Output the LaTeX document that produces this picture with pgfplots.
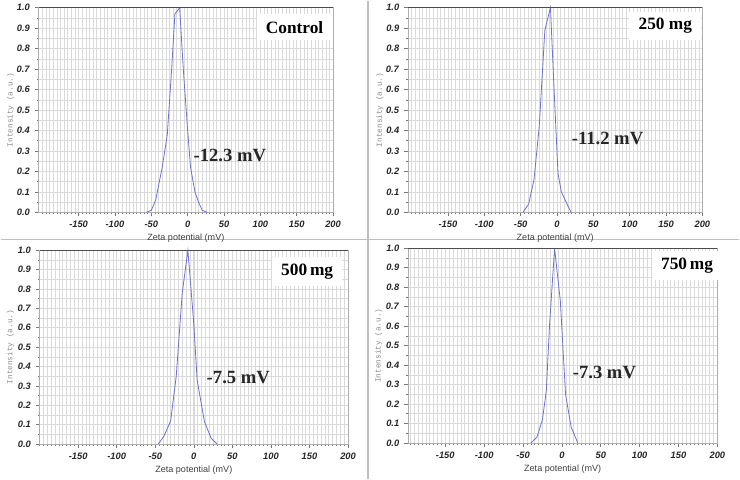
\documentclass[border=0pt]{standalone}
\usepackage{pgfplots}
\pgfplotsset{compat=1.18}
\usepackage{fontspec}
\setmainfont{Liberation Sans}
\newfontfamily\timesb{Liberation Serif}
\newfontfamily\monof{Liberation Mono}

\definecolor{curve}{RGB}{112,112,205}
\definecolor{gridc}{RGB}{218,218,218}
\definecolor{tickc}{RGB}{120,120,120}

\tikzset{
  boxlab/.style={fill=white, inner xsep=7pt, inner ysep=5pt, font=\timesb\bfseries\fontsize{13}{14}\selectfont},
  vlab/.style={font=\timesb\bfseries\fontsize{14}{15}\selectfont, text=black!85},
}

\pgfplotsset{
  zp/.style={
    scale only axis,
    anchor=south west,
    ymin=0, ymax=1,
    xmax=200,
    xtick={-150,-100,...,200},
    ytick={0,0.1,...,1.0},
    minor xtick={-200,-195,...,200},
    minor ytick={0.05,0.15,...,0.95},
    xticklabel={\textbf{\textit{\pgfmathprintnumber{\tick}}}},
    yticklabel={\textbf{\textit{\pgfmathprintnumber[fixed,fixed zerofill,precision=1]{\tick}}}},
    grid=both,
    major grid style={gridc, line width=0.5pt},
    minor grid style={gridc, line width=0.4pt},
    tick align=outside,
    major tick length=3pt,
    minor tick length=1.5pt,
    tick style={tickc, line width=0.4pt},
    xtick pos=bottom, ytick pos=left,
    axis line style={tickc!60, line width=0.4pt},
    ticklabel style={font=\fontsize{7}{8}\selectfont, text=black!85},
    /pgf/number format/assume math mode=true,
    xlabel={Zeta potential (mV)},
    ylabel={Intensity (a.u.)},
    xlabel style={font=\fontsize{6.8}{8}\selectfont, text=black!75, at={(axis description cs:0.5,0)}, anchor=north, yshift=-13pt},
    ylabel style={font=\monof\fontsize{5.8}{7}\selectfont, text=black!45, at={(axis description cs:-0.095,0.5)}, anchor=center},
    clip=false,
  },
  zc/.style={curve, line width=0.6pt, mark=none},
}

\begin{document}
\begin{tikzpicture}
\fill[white] (0,0) rectangle (555pt,359.25pt);
\draw[black!25, line width=1pt] (276pt,0) -- (276pt,359.25pt);
\draw[black!25, line width=1pt] (0,180pt) -- (555pt,180pt);

% Control
\begin{axis}[zp, at={(28.5pt,200.25pt)}, width=221.25pt, height=153.75pt, xmin=-205]
\addplot[zc] coordinates {
(-57,0) (-50,0.01) (-44,0.06) (-35,0.22) (-28,0.38) (-22,0.7) (-17.5,0.97)
(-11,1.0) (-6,0.7) (0,0.4) (4,0.22) (10,0.1) (15,0.05) (20,0.01) (27,0)
};
\draw[black!70, line width=1pt] (rel axis cs:0,1) -- (rel axis cs:1,1);
\node[boxlab] at (axis cs:147,0.905) {Control};
\node[vlab] at (axis cs:58,0.28) {-12.3 mV};
\end{axis}

% 250 mg
\begin{axis}[zp, at={(306pt,200.25pt)}, width=221.25pt, height=153.75pt, xmin=-205]
\addplot[zc] coordinates {
(-47,0) (-39,0.04) (-31.6,0.16) (-24.4,0.42) (-16.7,0.89) (-9,1.0)
(-4,0.6) (1.4,0.19) (6,0.1) (12.6,0.05) (19.4,0)
};
\draw[black!70, line width=1pt] (rel axis cs:0,1) -- (rel axis cs:1,1);
\node[boxlab] at (axis cs:149,0.91) {250 mg};
\node[vlab] at (axis cs:69.5,0.36) {-11.2 mV};
\end{axis}

% 500 mg
\begin{axis}[zp, at={(29.25pt,26.25pt)}, width=231.75pt, height=145.5pt, xmin=-200]
\addplot[zc] coordinates {
(-46,0) (-38.7,0.04) (-30,0.12) (-22.8,0.35) (-15,0.78) (-7.7,1.0)
(0,0.62) (4.3,0.33) (13.8,0.115) (22.4,0.03) (30,0)
};
\draw[black!70, line width=1pt] (rel axis cs:0,1) -- (rel axis cs:1,1);
\node[boxlab] at (axis cs:147,0.89) {500\,mg};
\node[vlab] at (axis cs:57.7,0.345) {-7.5 mV};
\end{axis}

% 750 mg
\begin{axis}[zp, at={(306pt,27pt)}, width=232.5pt, height=146.25pt, xmin=-198]
\addplot[zc] coordinates {
(-40,0) (-32,0.03) (-25,0.12) (-20,0.27) (-15.8,0.61) (-9.4,1.0)
(-2,0.73) (4.7,0.25) (12,0.08) (20.5,0)
};
\draw[black!70, line width=1pt] (rel axis cs:0,1) -- (rel axis cs:1,1);
\node[boxlab] at (axis cs:161,0.91) {750\,mg};
\node[vlab] at (axis cs:54.7,0.364) {-7.3 mV};
\end{axis}
\end{tikzpicture}
\end{document}
